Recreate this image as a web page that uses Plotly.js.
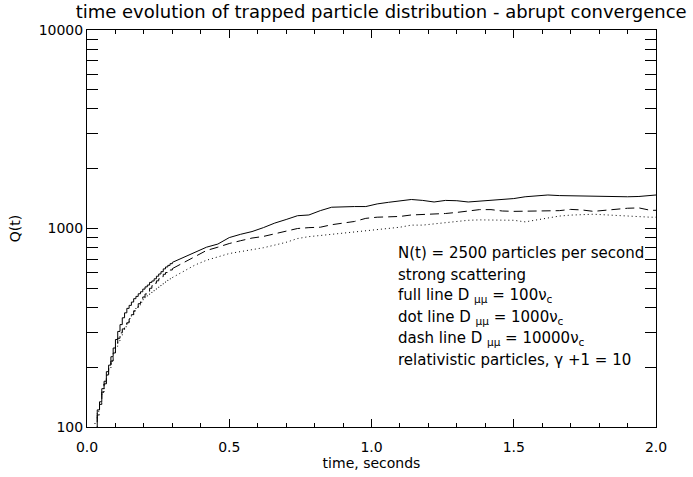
<!DOCTYPE html>
<html>
<head>
<meta charset="utf-8">
<script src="https://cdn.plot.ly/plotly-3.0.1.min.js"></script>
<style>html,body{margin:0;padding:0;background:#fff;}#chart{width:693px;height:477px;}</style>
</head>
<body>
<div id="chart"></div>
<script>
// early part: histogram bins (seconds), drawn as steps
const timeEarly = [
  0.020, 0.028, 0.036, 0.044, 0.052, 0.060, 0.068, 0.076, 0.084, 0.092,
  0.100, 0.108, 0.116, 0.124, 0.132, 0.140, 0.148, 0.156, 0.164, 0.172,
  0.180, 0.188, 0.196, 0.204, 0.212, 0.220, 0.228, 0.236, 0.244, 0.252,
  0.260, 0.268, 0.276, 0.284, 0.292, 0.300
];
const fullEarly = [
  55, 80, 122, 134, 156, 170, 190, 205, 226, 250,
  276, 303, 328, 355, 376, 396, 410, 426, 443, 455,
  469, 480, 495, 508, 519, 535, 544, 558, 575, 590,
  606, 626, 640, 652, 665, 675
];
const dotEarly = [
  70, 106, 120, 133, 150, 166, 182, 198, 215, 235,
  255, 272, 290, 305, 320, 336, 352, 368, 383, 398,
  412, 425, 438, 450, 460, 472, 482, 492, 503, 514,
  522, 530, 540, 550, 558, 566
];
const dashEarly = [
  50, 75, 115, 130, 150, 165, 183, 198, 215, 236,
  258, 280, 298, 312, 322, 335, 350, 368, 385, 400,
  418, 435, 452, 468, 482, 500, 515, 530, 545, 558,
  572, 588, 600, 608, 618, 628
];
// later part (seconds)
const timeLate = [
  0.30, 0.34, 0.38, 0.42, 0.46, 0.50, 0.54, 0.58, 0.62, 0.66,
  0.70, 0.74, 0.78, 0.82, 0.86, 0.90, 0.94, 0.98, 1.02, 1.06,
  1.10, 1.14, 1.18, 1.22, 1.26, 1.30, 1.34, 1.38, 1.42, 1.46,
  1.50, 1.54, 1.58, 1.62, 1.66, 1.70, 1.74, 1.78, 1.82, 1.86,
  1.90, 1.94, 1.98, 2.00
];
// full line: D_mumu = 100 nu_c
const fullLate = [
  675, 718, 760, 805, 835, 900, 935, 965, 1010, 1065,
  1110, 1160, 1170, 1230, 1280, 1290, 1290, 1290, 1330, 1355,
  1375, 1400, 1385, 1360, 1385, 1380, 1360, 1375, 1385, 1400,
  1415, 1445, 1465, 1475, 1465, 1460, 1460, 1455, 1445, 1440,
  1445, 1450, 1475, 1475
];
// dot line: D_mumu = 1000 nu_c
const dotLate = [
  566, 610, 655, 692, 722, 748, 765, 780, 800, 825,
  852, 890, 910, 922, 935, 945, 958, 970, 990, 1005,
  1015, 1040, 1040, 1055, 1072, 1085, 1100, 1105, 1105, 1105,
  1100, 1080, 1105, 1130, 1155, 1168, 1175, 1180, 1172, 1162,
  1155, 1150, 1140, 1140
];
// dash line: D_mumu = 10000 nu_c
const dashLate = [
  628, 675, 725, 775, 805, 840, 868, 895, 912, 940,
  970, 1000, 1010, 1015, 1045, 1065, 1085, 1125, 1140, 1145,
  1150, 1170, 1175, 1185, 1190, 1205, 1225, 1245, 1245, 1225,
  1220, 1220, 1222, 1225, 1230, 1248, 1240, 1220, 1235, 1250,
  1265, 1270, 1235, 1235
];
const notes = [
  "N(t) = 2500 particles per second",
  "strong scattering",
  "full line D <sub>μμ</sub> = 100ν<sub>c</sub>",
  "dot line D <sub>μμ</sub> = 1000ν<sub>c</sub>",
  "dash line D <sub>μμ</sub> = 10000ν<sub>c</sub>",
  "relativistic particles, γ +1 = 10"
];

const FONT = "DejaVu Sans, sans-serif";
const DOT = "1px,3px", DASH = "9px,5px";
const mk = (x, y, dash, shape, xa) => ({
  x: x, y: y, type: "scatter", mode: "lines", xaxis: xa, yaxis: "y",
  line: {color: "black", width: 1, shape: shape, dash: dash},
  hoverinfo: "skip", showlegend: false
});
// early steps on the labelled axis "x", later parts on the framed overlay axis "x2" (same range)
const data = [
  mk(timeEarly, fullEarly, "solid", "hv", "x"), mk(timeLate, fullLate, "solid", "linear", "x2"),
  mk(timeEarly, dotEarly, DOT, "hv", "x"), mk(timeLate, dotLate, DOT, "linear", "x2"),
  mk(timeEarly, dashEarly, DASH, "hv", "x"), mk(timeLate, dashLate, DASH, "linear", "x2")
];

const noteTop = 0.438, noteStep = 0.0539;
const annotations = notes.map((t, i) => ({
  text: t, xref: "paper", yref: "paper", x: 0.543, y: noteTop - i * noteStep,
  xanchor: "left", yanchor: "middle", showarrow: false,
  font: {family: FONT, size: 15, color: "black"}
}));

const tickFont = {family: FONT, size: 14, color: "black"};

const layout = {
  width: 693, height: 477,
  margin: {l: 87, r: 37, t: 30, b: 50},
  paper_bgcolor: "white", plot_bgcolor: "white",
  title: {text: "time evolution of trapped particle distribution - abrupt convergence",
          font: {family: FONT, size: 18, color: "black"},
          xref: "container", x: 0.55, xanchor: "center", y: 0.975, yanchor: "middle"},
  // labelled x axis (its own ticks are invisible, only used to space the labels)
  xaxis: {
    range: [0, 2], tick0: 0, dtick: 0.5, tickformat: ".1f",
    ticks: "outside", ticklen: 7, tickcolor: "rgba(0,0,0,0)",
    showline: false, showgrid: false, zeroline: false, tickfont: tickFont,
    title: {text: "time, seconds", font: {family: FONT, size: 14, color: "black"}, standoff: 1}
  },
  // frame + inside ticks for x
  xaxis2: {
    overlaying: "x", anchor: "y", side: "bottom",
    range: [0, 2], tick0: 0, dtick: 0.5, showticklabels: false,
    ticks: "inside", ticklen: 8, tickcolor: "black", tickwidth: 1,
    minor: {ticks: "inside", dtick: 0.1, ticklen: 4, tickcolor: "black", showgrid: false},
    showline: true, linecolor: "black", linewidth: 1, mirror: "allticks",
    showgrid: false, zeroline: false
  },
  yaxis: {
    type: "log", range: [2, 4], dtick: 1, exponentformat: "none", tickformat: "d",
    ticks: "inside", ticklen: 11, tickcolor: "black", tickwidth: 1,
    minor: {ticks: "inside", dtick: "D1", ticklen: 5, tickcolor: "black", showgrid: false},
    showline: true, linecolor: "black", linewidth: 1, mirror: "allticks",
    showgrid: false, zeroline: false, tickfont: tickFont,
    title: {text: "Q(t)", font: {family: FONT, size: 14, color: "black"}, standoff: 14}
  },
  annotations: annotations
};

Plotly.newPlot("chart", data, layout, {displayModeBar: false, staticPlot: true});
</script>
</body>
</html>
